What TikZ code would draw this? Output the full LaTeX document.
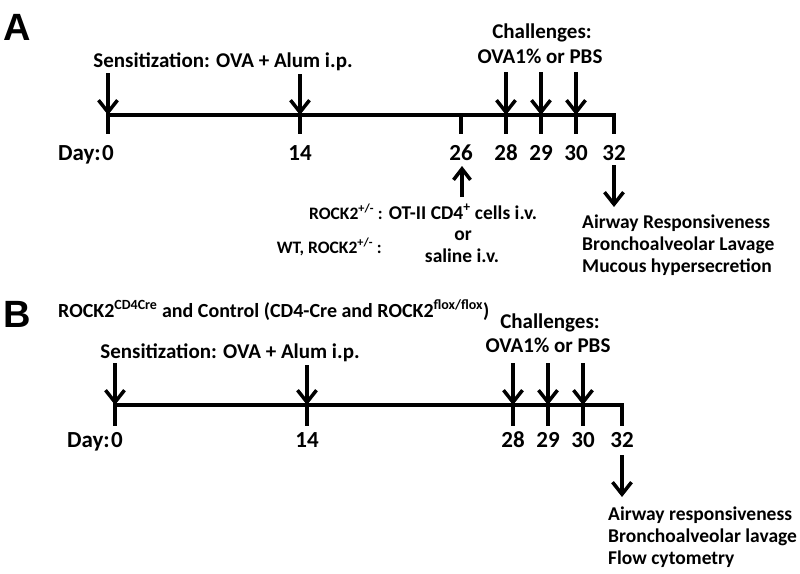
\documentclass[tikz,border=0pt]{standalone}
\usepackage{fontspec}
\setmainfont{Carlito}
\newfontfamily\panelfont{Liberation Sans}
\usetikzlibrary{arrows.meta}

\tikzset{
  lbl/.style={font=\fontsize{21}{24}\selectfont\bfseries, inner sep=0pt, anchor=base},
  daylbl/.style={font=\fontsize{23}{26}\selectfont\bfseries, inner sep=0pt, anchor=base},
  small/.style={font=\fontsize{17.5}{20}\selectfont\bfseries, inner sep=0pt, anchor=base east},
  outcome/.style={font=\fontsize{19.5}{22}\selectfont\bfseries, inner sep=0pt, anchor=base west},
  panel/.style={font=\fontsize{38}{40}\selectfont\panelfont\bfseries, inner sep=0pt, anchor=base west},
  axis/.style={line width=3.5pt, line cap=rect},
  pointer/.style={line width=3.5pt, -{Straight Barb[length=12pt,width=19pt,line width=3.5pt]}},
  shortpointer/.style={line width=3.5pt, -{Straight Barb[length=11pt,width=17pt,line width=3.5pt]}}
}

\begin{document}
\begin{tikzpicture}[x=1pt,y=-1pt]

  \useasboundingbox (0,0) rectangle (800,573);

  % panel A
  \node[panel] (A) at (3,40) {A};

  \coordinate (a0)  at (108,115);
  \coordinate (a14) at (300,115);
  \coordinate (a26) at (461,115);
  \coordinate (a28) at (506,115);
  \coordinate (a29) at (541,115);
  \coordinate (a30) at (576,115);
  \coordinate (a32) at (614,115);

  \coordinate (s0)  at (108,73);
  \coordinate (s14) at (300,74);
  \coordinate (c28) at (506,72);
  \coordinate (c29) at (541,72);
  \coordinate (c30) at (576,72);

  \draw[axis] (a0) -- (a32);
  \draw[axis] (a0)  -- ++(0,17);
  \draw[axis] (a14) -- ++(0,17);
  \draw[axis] (a26) -- ++(0,17);
  \draw[axis] (a28) -- ++(0,17);
  \draw[axis] (a29) -- ++(0,17);
  \draw[axis] (a30) -- ++(0,17);
  \draw[axis] (a32) -- ++(0,17);

  \draw[pointer] (s0)  -- (a0);
  \draw[pointer] (s14) -- (a14);
  \draw[pointer] (c28) -- (a28);
  \draw[pointer] (c29) -- (a29);
  \draw[pointer] (c30) -- (a30);

  \node[lbl] (sensA) at (223,67) {Sensitization: OVA + Alum i.p.};
  \node[lbl] (chalA) at (542,38) {Challenges:};
  \node[lbl] (ovaA)  at (540,63) {OVA1\% or PBS};

  \node[daylbl, anchor=base east] (dayA) at (101,160) {Day:};
  \node[daylbl] (d0)  at (108,160) {0};
  \node[daylbl] (d14) at (300,160) {14};
  \node[daylbl] (d26) at (461,160) {26};
  \node[daylbl] (d28) at (506,160) {28};
  \node[daylbl] (d29) at (541,160) {29};
  \node[daylbl] (d30) at (576,160) {30};
  \node[daylbl] (d32) at (614,160) {32};

  \coordinate (t26) at (462,197);
  \coordinate (h26) at (462,166);
  \draw[shortpointer] (t26) -- (h26);

  \node[small] (rockA) at (383,219) {ROCK2\textsuperscript{+/-} :};
  \node[small] (wtA)   at (382,253) {WT, ROCK2\textsuperscript{+/-} :};
  \node[lbl, font=\fontsize{19.5}{22}\selectfont\bfseries] (cellsA) at (463,219) {OT-II CD4\textsuperscript{+} cells i.v.};
  \node[lbl, font=\fontsize{19.5}{22}\selectfont\bfseries] (orA)    at (463,240) {or};
  \node[lbl, font=\fontsize{19.5}{22}\selectfont\bfseries] (salA)   at (462,262) {saline i.v.};

  \coordinate (t32) at (614,165);
  \coordinate (h32) at (614,207);
  \draw[pointer] (t32) -- (h32);

  \node[outcome] (ahrA)  at (582,228) {Airway Responsiveness};
  \node[outcome] (balA)  at (582,250) {Bronchoalveolar Lavage};
  \node[outcome] (mucA)  at (582,272) {Mucous hypersecretion};

  % panel B
  \node[panel] (B) at (3,327) {B};
  \node[lbl, anchor=base west, font=\fontsize{20}{23}\selectfont\bfseries] (title) at (58,317)
    {ROCK2\textsuperscript{CD4Cre} and Control (CD4-Cre and ROCK2\textsuperscript{flox/flox})};

  \coordinate (b0)  at (115,405);
  \coordinate (b14) at (307,405);
  \coordinate (b28) at (513,405);
  \coordinate (b29) at (548,405);
  \coordinate (b30) at (583,405);
  \coordinate (b32) at (622,405);

  \coordinate (u0)  at (115,363);
  \coordinate (u14) at (307,365);
  \coordinate (v28) at (513,363);
  \coordinate (v29) at (548,363);
  \coordinate (v30) at (583,363);

  \draw[axis] (b0) -- (b32);
  \draw[axis] (b0)  -- ++(0,19);
  \draw[axis] (b14) -- ++(0,19);
  \draw[axis] (b28) -- ++(0,19);
  \draw[axis] (b29) -- ++(0,19);
  \draw[axis] (b30) -- ++(0,19);
  \draw[axis] (b32) -- ++(0,19);

  \draw[pointer] (u0)  -- (b0);
  \draw[pointer] (u14) -- (b14);
  \draw[pointer] (v28) -- (b28);
  \draw[pointer] (v29) -- (b29);
  \draw[pointer] (v30) -- (b30);

  \node[lbl] (sensB) at (230,358) {Sensitization: OVA + Alum i.p.};
  \node[lbl] (chalB) at (550,328) {Challenges:};
  \node[lbl] (ovaB)  at (548,352) {OVA1\% or PBS};

  \node[daylbl, anchor=base east] (dayB) at (110,447) {Day:};
  \node[daylbl] (e0)  at (117,447) {0};
  \node[daylbl] (e14) at (307,447) {14};
  \node[daylbl] (e28) at (513,447) {28};
  \node[daylbl] (e29) at (548,447) {29};
  \node[daylbl] (e30) at (583,447) {30};
  \node[daylbl] (e32) at (622,447) {32};

  \coordinate (w32) at (622,455);
  \coordinate (x32) at (622,497);
  \draw[pointer] (w32) -- (x32);

  \node[outcome] (ahrB) at (608,520) {Airway responsiveness};
  \node[outcome] (balB) at (608,542) {Bronchoalveolar lavage};
  \node[outcome] (flowB) at (608,564) {Flow cytometry};

\end{tikzpicture}
\end{document}
